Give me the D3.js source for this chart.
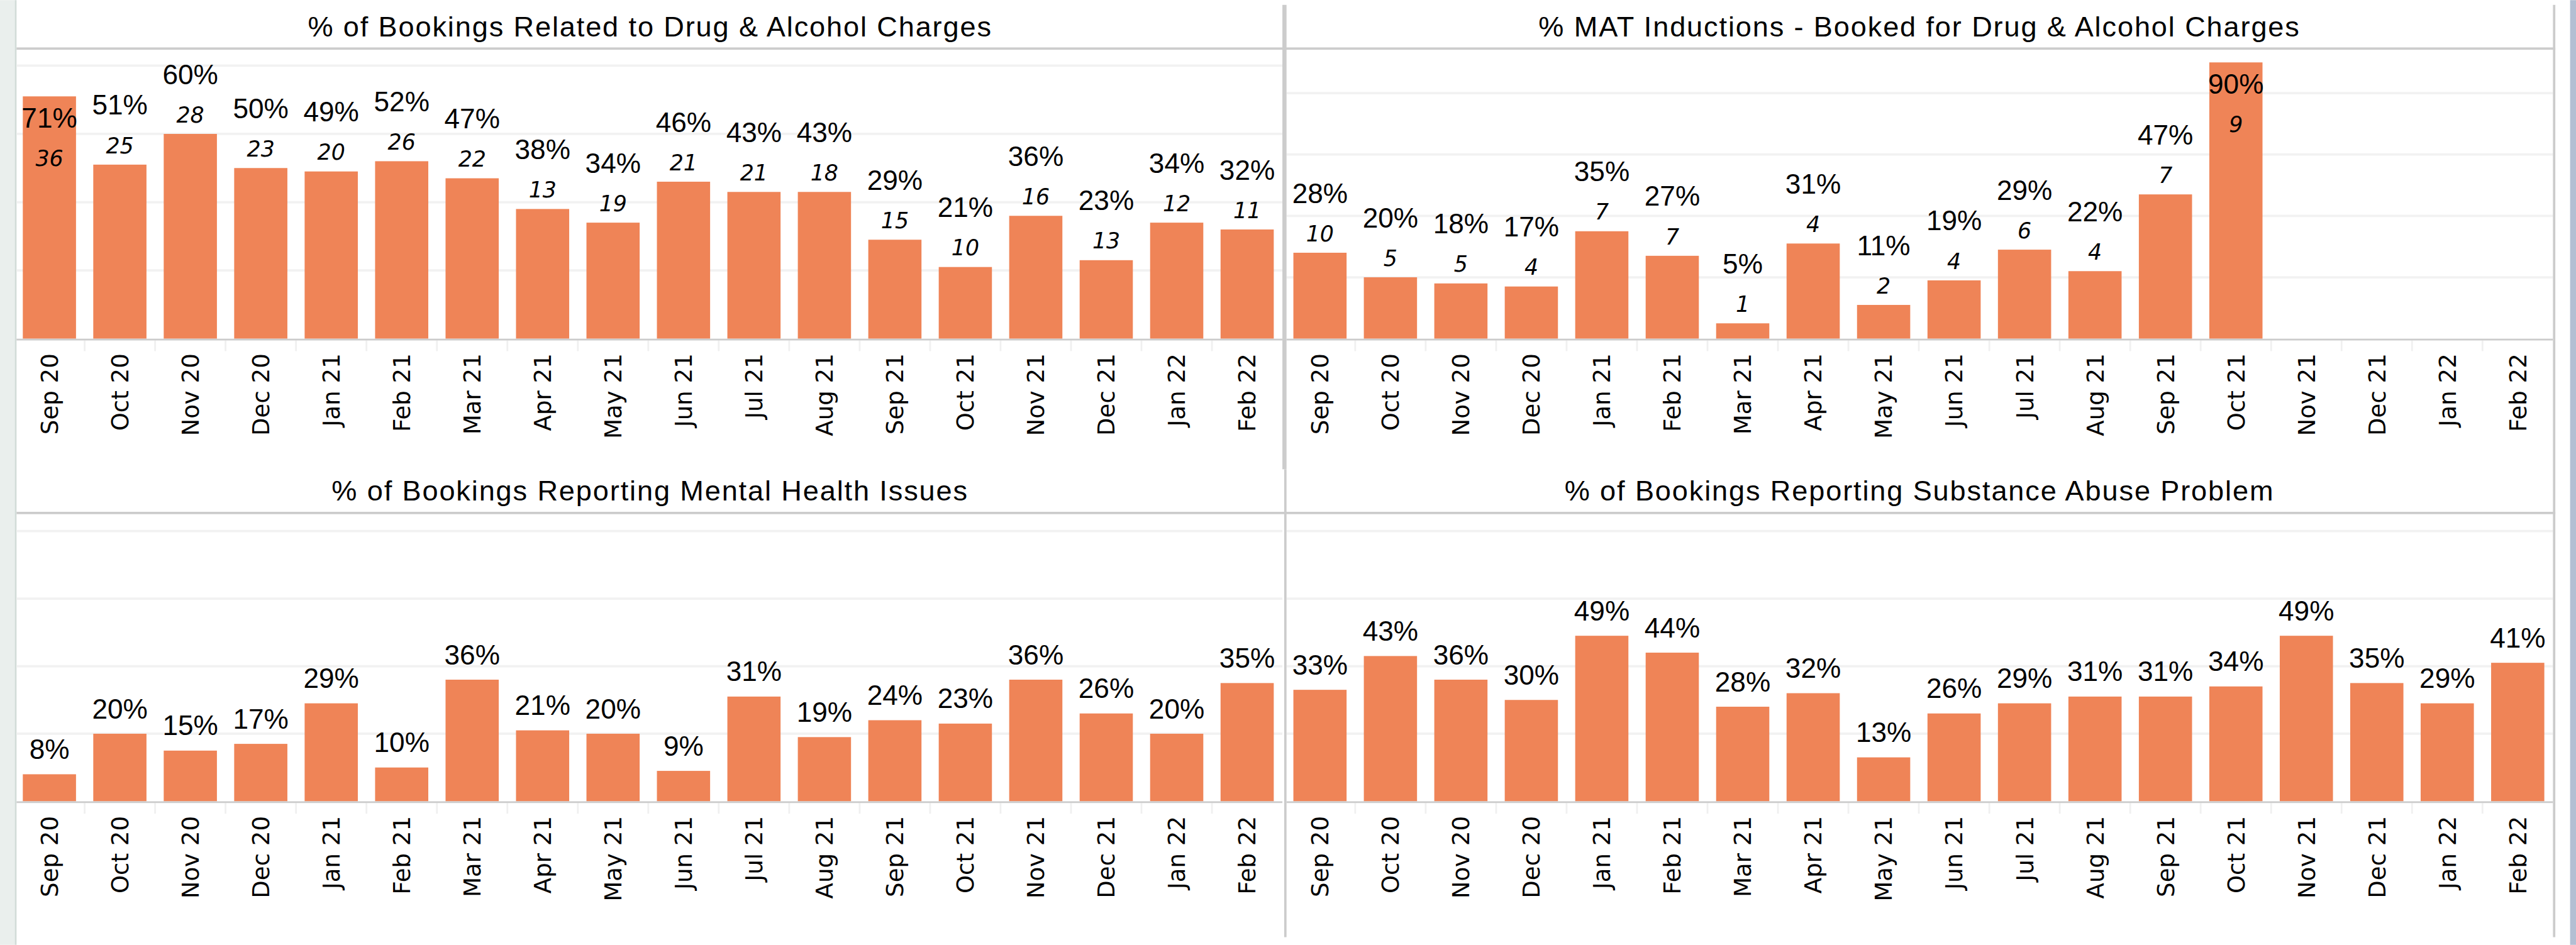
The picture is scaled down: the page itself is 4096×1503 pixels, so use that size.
<!DOCTYPE html>
<meta charset="utf-8">
<style>
body { margin: 0; background: #fff; overflow: hidden; }
text { font-family: "Liberation Sans", Arial, sans-serif; }
.xlab { font-family: "DejaVu Sans", Verdana, sans-serif; }
.cnt { font-family: "DejaVu Sans", Verdana, sans-serif; font-style: italic; }
</style>
<body>
<div id="chart"></div>
<script src="https://d3js.org/d3.v7.min.js"></script>
<script>

var months = ["Sep 20", "Oct 20", "Nov 20", "Dec 20", "Jan 21", "Feb 21", "Mar 21", "Apr 21", "May 21",
              "Jun 21", "Jul 21", "Aug 21", "Sep 21", "Oct 21", "Nov 21", "Dec 21", "Jan 22", "Feb 22"];

var titles = ["% of Bookings Related to Drug & Alcohol Charges",
              "% MAT Inductions - Booked for Drug & Alcohol Charges",
              "% of Bookings Reporting Mental Health Issues",
              "% of Bookings Reporting Substance Abuse Problem"];

var drugPct   = [71, 51, 60, 50, 49, 52, 47, 38, 34, 46, 43, 43, 29, 21, 36, 23, 34, 32];
var drugCount = [36, 25, 28, 23, 20, 26, 22, 13, 19, 21, 21, 18, 15, 10, 16, 13, 12, 11];

var matPct   = [28, 20, 18, 17, 35, 27, 5, 31, 11, 19, 29, 22, 47, 90, null, null, null, null];
var matCount = [10, 5, 5, 4, 7, 7, 1, 4, 2, 4, 6, 4, 7, 9, null, null, null, null];

var mentalPct    = [8, 20, 15, 17, 29, 10, 36, 21, 20, 9, 31, 19, 24, 23, 36, 26, 20, 35];
var substancePct = [33, 43, 36, 30, 49, 44, 28, 32, 13, 26, 29, 31, 31, 34, 49, 35, 29, 41];

var gridTicks = [20, 40, 60, 80];

// reference pixel space, scaled down to the window by the viewBox
var W = 4359, H = 1599;

var svg = d3.select("#chart").append("svg")
    .attr("width", 4096)
    .attr("height", 1503)
    .attr("viewBox", "0 0 " + W + " " + H);

var rows = [
    {titleY: 61, sepY: 82, top: 82, base: 573},
    {titleY: 847, sepY: 868, top: 870, base: 1356}
];
var cols = [
    {x0: 24, x1: 2170, mid: 1100},
    {x0: 2174, x1: 4320, mid: 3248}
];

var panels = [
    {title: titles[0], pct: drugPct, cnt: drugCount, row: 0, col: 0, max: 85},
    {title: titles[1], pct: matPct, cnt: matCount, row: 0, col: 1, max: 94.5},
    {title: titles[2], pct: mentalPct, cnt: null, row: 1, col: 0, max: 85},
    {title: titles[3], pct: substancePct, cnt: null, row: 1, col: 1, max: 85}
];

var barColor = "#ef8457";

// frame: left strip, right strip
svg.append("rect").attr("x", 0).attr("y", 0).attr("width", 25).attr("height", H).attr("fill", "#eaefed");
svg.append("rect").attr("x", 25).attr("y", 0).attr("width", 3).attr("height", H).attr("fill", "#d2dcd8");
svg.append("rect").attr("x", 4349).attr("y", 0).attr("width", 10).attr("height", H).attr("fill", "#b3bfd3");

panels.forEach(function(p) {
    var r = rows[p.row], c = cols[p.col];
    var g = svg.append("g");
    var left = p.col == 0 ? 28 : c.x0 + 3;

    var x = d3.scaleBand()
        .domain(months)
        .range([c.x0, c.x1])
        .paddingInner(0.245)
        .paddingOuter(0.1225);

    var y = d3.scaleLinear()
        .domain([0, p.max])
        .range([r.base, r.top]);

    // gridlines
    g.selectAll("line.grid")
        .data(gridTicks)
        .enter().append("line")
        .attr("x1", left)
        .attr("x2", c.x1)
        .attr("y1", function(d) { return y(d); })
        .attr("y2", function(d) { return y(d); })
        .attr("stroke", "#f2f2f2")
        .attr("stroke-width", 4);

    // tick separators below the axis
    g.selectAll("line.sep")
        .data(months.slice(1))
        .enter().append("line")
        .attr("x1", function(d) { return x(d) - x.step() * x.paddingInner() / 2; })
        .attr("x2", function(d) { return x(d) - x.step() * x.paddingInner() / 2; })
        .attr("y1", r.base + 3)
        .attr("y2", r.base + 21)
        .attr("stroke", "#f0f0f0")
        .attr("stroke-width", 3);

    var data = months.map(function(m, i) {
        return {m: m, v: p.pct[i], n: p.cnt ? p.cnt[i] : null};
    }).filter(function(d) { return d.v != null; });

    g.selectAll("rect.bar")
        .data(data)
        .enter().append("rect")
        .attr("x", function(d) { return x(d.m); })
        .attr("width", x.bandwidth())
        .attr("y", function(d) { return y(d.v); })
        .attr("height", function(d) { return r.base - y(d.v); })
        .attr("fill", barColor);

    // baseline
    g.append("rect")
        .attr("x", left)
        .attr("width", c.x1 - left)
        .attr("y", r.base)
        .attr("height", 3)
        .attr("fill", "#cccccc");

    // value labels (percent above count; moved inside the bar when it would leave the plot)
    data.forEach(function(d) {
        var cx = x(d.m) + x.bandwidth() / 2;
        var top = y(d.v);
        var pctY, cntY;
        if (p.cnt) {
            var inside = (top - 84.5 - 34) < r.top;
            pctY = inside ? top + 53 : top - 84.5;
            cntY = inside ? top + 117.5 : top - 19.5;
        } else {
            pctY = top - 26;
        }
        g.append("text")
            .attr("x", cx)
            .attr("y", pctY)
            .attr("text-anchor", "middle")
            .style("font-size", "47px")
            .attr("fill", "#000")
            .text(d.v + "%");
        if (p.cnt) {
            g.append("text")
                .attr("class", "cnt")
                .attr("x", cx)
                .attr("y", cntY)
                .attr("text-anchor", "middle")
                .style("font-size", "37px")
                .attr("fill", "#000")
                .text(d.n);
        }
    });

    // month labels
    g.selectAll("text.xlab")
        .data(months)
        .enter().append("text")
        .attr("class", "xlab")
        .attr("transform", function(d) {
            return "translate(" + (x(d) + x.bandwidth() / 2) + "," + (r.base + 25) + ") rotate(-90)";
        })
        .attr("dy", "0.36em")
        .attr("text-anchor", "end")
        .style("font-size", "39.5px")
        .attr("fill", "#000")
        .text(function(d) { return d; });

    // title
    g.append("text")
        .attr("x", c.mid)
        .attr("y", r.titleY)
        .attr("text-anchor", "middle")
        .style("font-size", "48px")
        .style("letter-spacing", "2px")
        .attr("fill", "#000")
        .text(p.title);
});

// title separators
rows.forEach(function(r) {
    svg.append("rect").attr("x", 28).attr("y", r.sepY - 2).attr("width", 4324 - 28).attr("height", 4).attr("fill", "#cccccc");
});

// column dividers and right border
svg.append("rect").attr("x", 2170).attr("y", 8).attr("width", 7).attr("height", 794 - 8).attr("fill", "#cccccc");
svg.append("rect").attr("x", 2173).attr("y", 794).attr("width", 4).attr("height", 1586 - 794).attr("fill", "#cccccc");
svg.append("rect").attr("x", 4320).attr("y", 8).attr("width", 4).attr("height", 1586 - 8).attr("fill", "#cccccc");

</script>
</body>
